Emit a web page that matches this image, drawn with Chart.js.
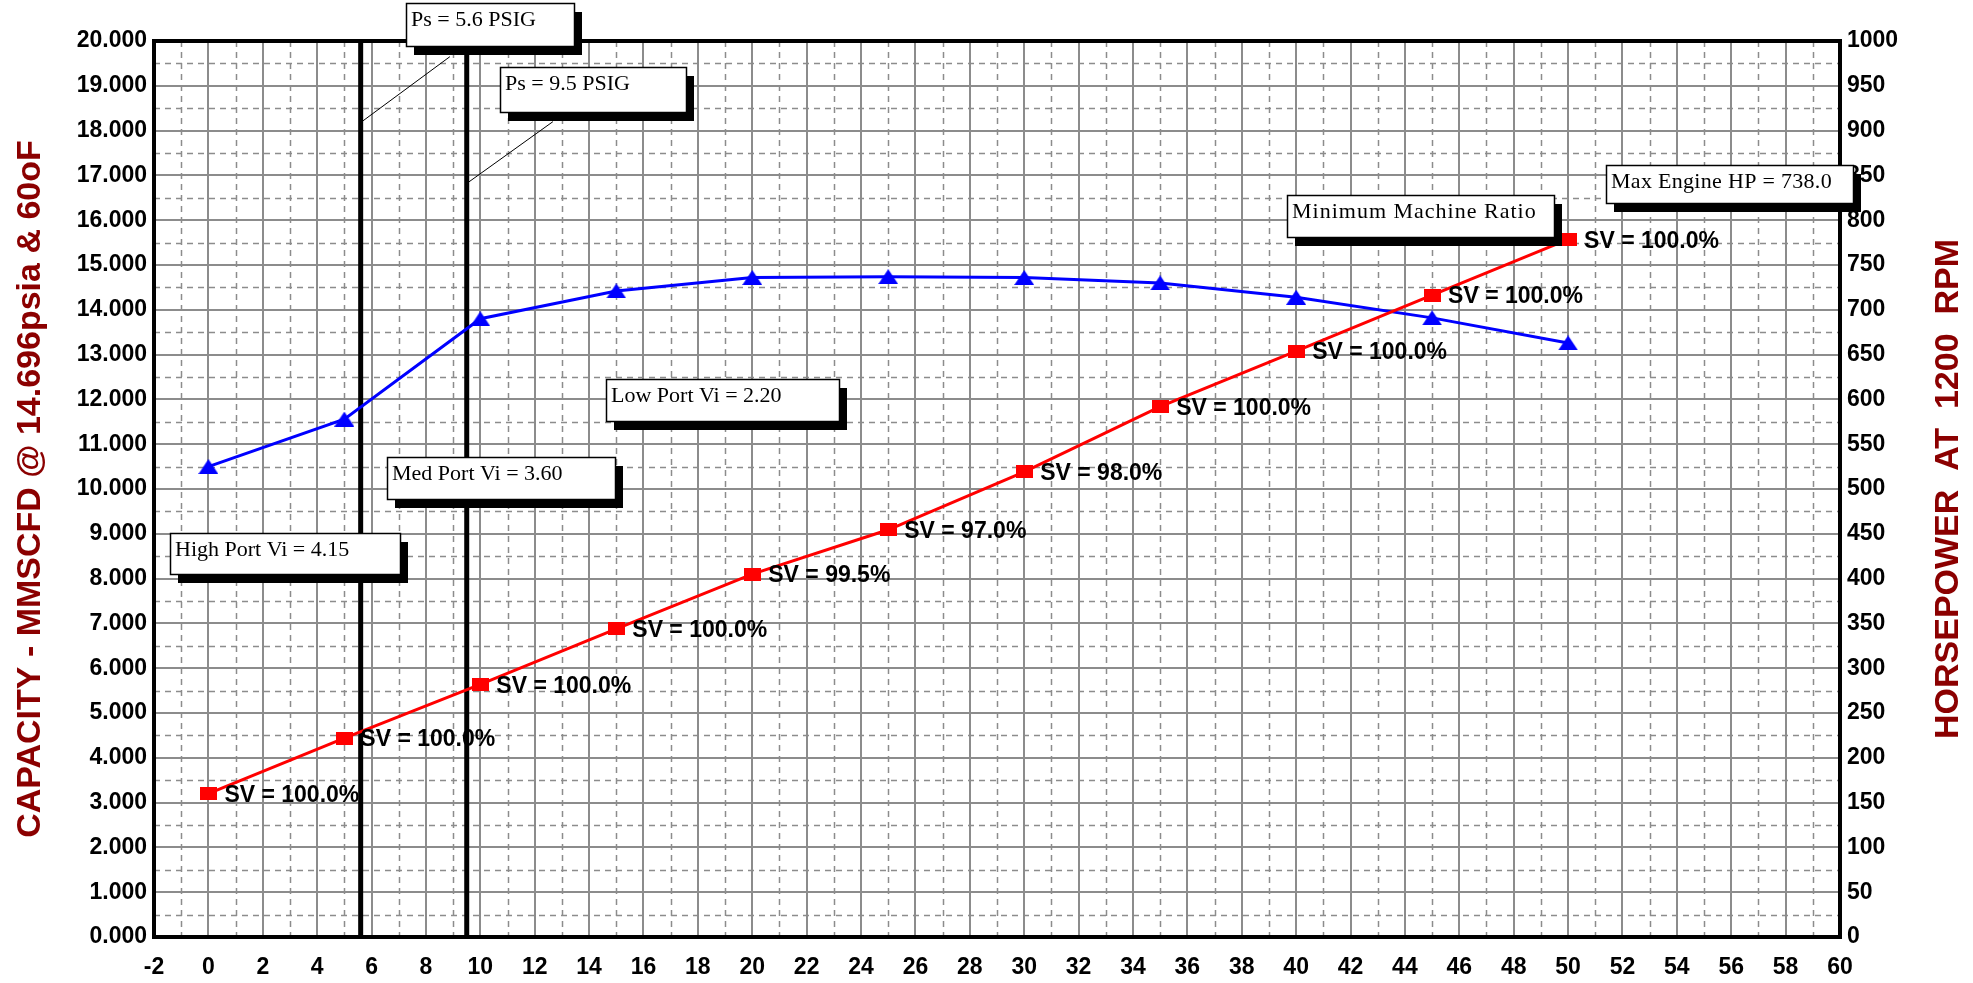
<!DOCTYPE html>
<html><head><meta charset="utf-8">
<script src="https://cdn.jsdelivr.net/npm/chart.js@4.4.1/dist/chart.umd.min.js"></script>
<style>html,body{margin:0;padding:0;background:#fff;overflow:hidden}canvas{display:block}</style>
</head><body>
<canvas id="c" width="1973" height="983"></canvas>
<script>
// ---------- data ----------
const pressures  = [0, 5, 10, 15, 20, 25, 30, 35, 40, 45, 50];
const capacity   = [3.20, 4.44, 5.64, 6.88, 8.10, 9.09, 10.38, 11.84, 13.08, 14.33, 15.57];
const horsepower = [525, 578, 690, 721, 736, 737, 736, 730, 714, 691, 663];
const svLabels   = ['100.0','100.0','100.0','100.0','99.5','97.0','98.0','100.0','100.0','100.0','100.0'];
const suctionLines = [5.6, 9.5];
const noteTexts = ['Ps = 5.6 PSIG','Ps = 9.5 PSIG','Minimum Machine Ratio','Max Engine HP = 738.0',
                   'Low Port Vi = 2.20','Med Port Vi = 3.60','High Port Vi = 4.15'];
const xTickLabels = ['-2','0','2','4','6','8','10','12','14','16','18','20','22','24','26','28','30',
  '32','34','36','38','40','42','44','46','48','50','52','54','56','58','60'];
const capTickLabels = ['0.000','1.000','2.000','3.000','4.000','5.000','6.000','7.000','8.000','9.000',
  '10.000','11.000','12.000','13.000','14.000','15.000','16.000','17.000','18.000','19.000','20.000'];
const hpTickLabels = ['0','50','100','150','200','250','300','350','400','450','500','550','600','650',
  '700','750','800','850','900','950','1000'];
const leftTitle  = 'CAPACITY - MMSCFD @ 14.696psia & 60oF';
const rightTitle = 'HORSEPOWER  AT  1200  RPM';

// ---------- layout of annotation boxes (data coords of top-left, size in px) ----------
const noteLayout = [
  {x: 7.27,  y: 20.84, w: 168, h: 43, sp: 0, lead: [8.88, 19.65, 5.6, 18.18]},
  {x: 10.72, y: 19.43, w: 186, h: 45, sp: 0, lead: [12.67, 18.20, 9.5, 16.82]},
  {x: 39.66, y: 16.57, w: 267, h: 42, sp: 1},
  {x: 51.39, y: 17.24, w: 247, h: 38, sp: 0.3},
  {x: 14.62, y: 12.45, w: 233, h: 42, sp: 0},
  {x: 6.55,  y: 10.71, w: 228, h: 42, sp: 0},
  {x: -1.41, y: 9.01,  w: 230, h: 41, sp: 0}
];

// ---------- marker images ----------
function makeSquare(){ const c=document.createElement('canvas'); c.width=17; c.height=13;
  const g=c.getContext('2d'); g.fillStyle='#ff0000'; g.fillRect(0,0,17,13); return c; }
function makeTri(){ const c=document.createElement('canvas'); c.width=20; c.height=15;
  const g=c.getContext('2d'); g.fillStyle='#0000ff'; g.beginPath(); g.moveTo(10,0); g.lineTo(20,15); g.lineTo(0,15); g.closePath(); g.fill(); return c; }

const tickFont = {family:"'Liberation Sans', Arial, sans-serif", size:23, weight:'bold'};
const gridGray = '#8c8c8c';

const extras = {
  id:'extras',
  beforeDatasetsDraw(chart){
    const {ctx, chartArea:a, scales} = chart;
    const x = scales.x, y = scales.yCap;
    ctx.save();
    ctx.strokeStyle = gridGray; ctx.lineWidth = 1.5; ctx.setLineDash([6,5]);
    for (let v = -1; v < 60; v += 2){
      const px = Math.round(x.getPixelForValue(v)) + 0.5;
      ctx.beginPath(); ctx.moveTo(px, a.top); ctx.lineTo(px, a.bottom); ctx.stroke();
    }
    for (let v = 0.5; v < 20; v += 1){
      const py = Math.round(y.getPixelForValue(v)) + 0.5;
      ctx.beginPath(); ctx.moveTo(a.left, py); ctx.lineTo(a.right, py); ctx.stroke();
    }
    ctx.setLineDash([]);
    ctx.strokeStyle = '#000'; ctx.lineWidth = 5;
    suctionLines.forEach(v => {
      const px = x.getPixelForValue(v);
      ctx.beginPath(); ctx.moveTo(px, a.top); ctx.lineTo(px, a.bottom); ctx.stroke();
    });
    ctx.restore();
  },
  afterDatasetsDraw(chart){
    const {ctx, chartArea:a, scales} = chart;
    const x = scales.x, y = scales.yCap;
    ctx.save();
    ctx.font = "bold 23px 'Liberation Sans', Arial, sans-serif";
    ctx.fillStyle = '#000'; ctx.textBaseline = 'middle'; ctx.textAlign = 'left';
    pressures.forEach((p,i) => {
      ctx.fillText('SV = ' + svLabels[i] + '%', x.getPixelForValue(p) + 16, y.getPixelForValue(capacity[i]) + 2);
    });
    ctx.strokeStyle = '#000'; ctx.lineWidth = 4;
    ctx.strokeRect(a.left, a.top, a.right - a.left, a.bottom - a.top);
    ctx.restore();
  },
  afterDraw(chart){
    const {ctx, scales} = chart;
    const x = scales.x, y = scales.yCap;
    ctx.save();
    noteLayout.forEach((n,i) => {
      if (n.lead){
        ctx.strokeStyle = '#000'; ctx.lineWidth = 1;
        ctx.beginPath();
        ctx.moveTo(x.getPixelForValue(n.lead[0]), y.getPixelForValue(n.lead[1]));
        ctx.lineTo(x.getPixelForValue(n.lead[2]), y.getPixelForValue(n.lead[3]));
        ctx.stroke();
      }
      const bx = Math.round(x.getPixelForValue(n.x)), by = Math.round(y.getPixelForValue(n.y));
      ctx.fillStyle = '#000'; ctx.fillRect(bx + 8, by + 9, n.w, n.h);
      ctx.fillStyle = '#fff'; ctx.fillRect(bx, by, n.w, n.h);
      ctx.strokeStyle = '#000'; ctx.lineWidth = 1.5; ctx.strokeRect(bx + 0.5, by + 0.5, n.w, n.h);
      ctx.fillStyle = '#000';
      ctx.font = "22px 'Liberation Serif', 'Times New Roman', serif";
      ctx.letterSpacing = n.sp + 'px';
      ctx.textBaseline = 'alphabetic'; ctx.textAlign = 'left';
      ctx.fillText(noteTexts[i], bx + 5, by + 23);
      ctx.letterSpacing = '0px';
    });
    ctx.fillStyle = '#8b0000';
    ctx.font = "bold 34px 'Liberation Sans', Arial, sans-serif";
    ctx.textAlign = 'center'; ctx.textBaseline = 'alphabetic';
    const midY = (chart.chartArea.top + chart.chartArea.bottom) / 2;
    ctx.save(); ctx.translate(40, midY); ctx.rotate(-Math.PI/2); ctx.fillText(leftTitle, 0, 0); ctx.restore();
    ctx.save(); ctx.translate(1958, midY); ctx.rotate(-Math.PI/2); ctx.fillText(rightTitle, 0, 0); ctx.restore();
    ctx.restore();
  }
};

new Chart(document.getElementById('c'), {
  type: 'line',
  data: {
    datasets: [
      {
        label: 'Capacity',
        data: pressures.map((p,i) => ({x:p, y:capacity[i]})),
        yAxisID: 'yCap',
        borderColor: '#ff0000', backgroundColor: '#ff0000', borderWidth: 3,
        pointStyle: makeSquare(), pointRadius: 8, tension: 0, fill: false
      },
      {
        label: 'Horsepower',
        data: pressures.map((p,i) => ({x:p, y:horsepower[i]})),
        yAxisID: 'yHp',
        borderColor: '#0000ff', backgroundColor: '#0000ff', borderWidth: 3,
        pointStyle: makeTri(), pointRadius: 9, tension: 0, fill: false
      }
    ]
  },
  options: {
    responsive: false, animation: false, devicePixelRatio: 1,
    layout: {padding: {top: 41, left: 0, right: 0, bottom: 0}},
    plugins: {legend: {display:false}, tooltip: {enabled:false}, title: {display:false}},
    scales: {
      x: {
        type: 'linear', min: -2, max: 60,
        ticks: {stepSize: 2, autoSkip: false, maxRotation: 0, color: '#000', font: tickFont, padding: 17,
                callback: (v, i) => xTickLabels[i]},
        grid: {color: gridGray, lineWidth: 2, drawTicks: false},
        border: {display: false},
        afterFit(s){ s.height = 46; }
      },
      yCap: {
        type: 'linear', position: 'left', min: 0, max: 20,
        ticks: {stepSize: 1, autoSkip: false, color: '#000', font: tickFont, padding: 7,
                callback: (v, i) => capTickLabels[i]},
        grid: {color: gridGray, lineWidth: 2, drawTicks: false},
        border: {display: false},
        afterFit(s){ s.width = 154; }
      },
      yHp: {
        type: 'linear', position: 'right', min: 0, max: 1000,
        ticks: {stepSize: 50, autoSkip: false, color: '#000', font: tickFont, padding: 7,
                callback: (v, i) => hpTickLabels[i]},
        grid: {drawOnChartArea: false, drawTicks: false},
        border: {display: false},
        afterFit(s){ s.width = 133; }
      }
    }
  },
  plugins: [extras]
});
</script>
</body></html>
